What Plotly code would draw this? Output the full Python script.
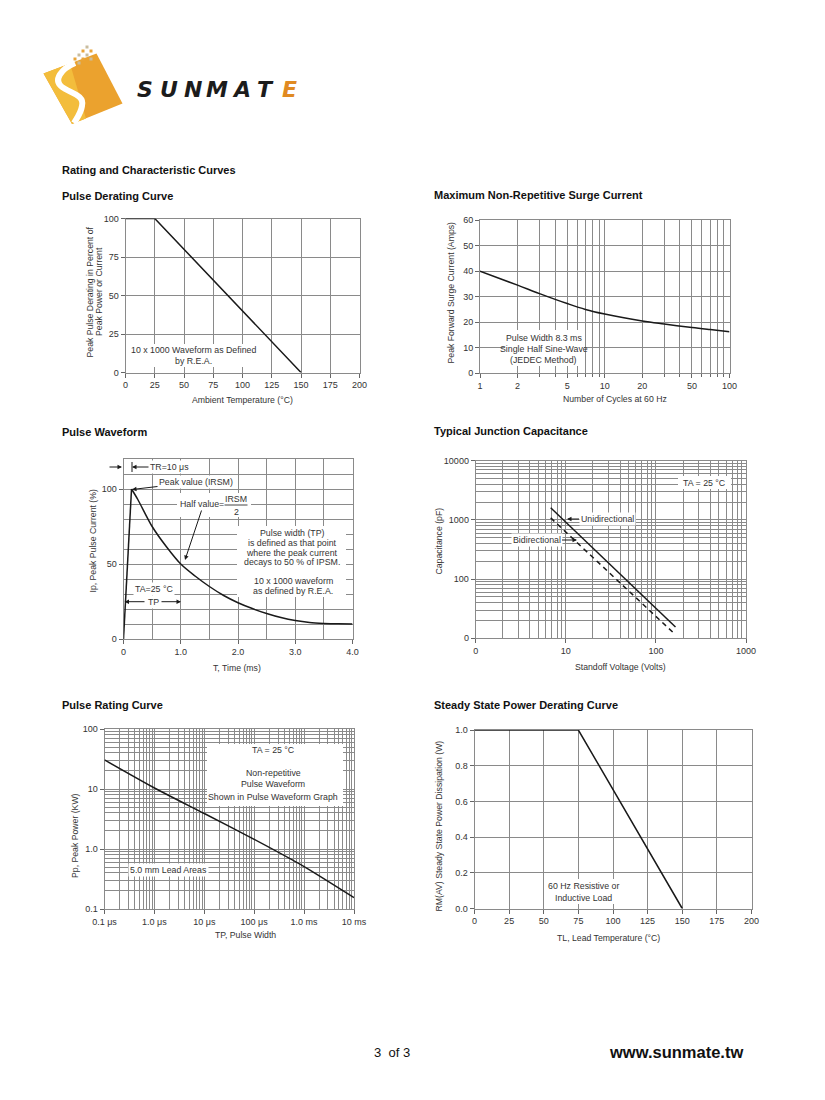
import plotly.graph_objects as go

W, H = 825, 1100
FONT = "Liberation Sans, Arial, Helvetica, sans-serif"
GRID = "#8a8a8a"
INK = "#1a1a1a"
TXT = "#333333"

# ---------------- data ----------------
derate_temp = [0, 25, 150]
derate_pct = [100, 100, 0]
derate_xticks = [0, 25, 50, 75, 100, 125, 150, 175, 200]
derate_yticks = [0, 25, 50, 75, 100]

surge_cycles = [1, 2, 3, 5, 7, 10, 20, 30, 50, 70, 100]
surge_amps = [40, 34.5, 31.2, 27.3, 25, 23.2, 20.5, 19.3, 17.9, 17.1, 16.3]
surge_xticks = [1, 2, 5, 10, 20, 50, 100]
surge_yticks = [0, 10, 20, 30, 40, 50, 60]

wave_t = [0, 0.14, 0.25, 0.5, 0.75, 1.0, 1.25, 1.5, 1.75, 2.0, 2.25, 2.5, 2.75, 3.0, 3.25, 3.5, 3.75, 4.0]
wave_pct = [0, 100, 93, 75, 61.5, 50, 42, 35, 29, 24.2, 20.3, 17, 14.3, 12.3, 11, 10.4, 10.1, 10]
wave_xticks = [0, 1, 2, 3, 4]
wave_xlabels = ["0", "1.0", "2.0", "3.0", "4.0"]
wave_yticks = [0, 50, 100]

cap_volts_uni = [6.8, 165]
cap_pf_uni = [1600, 15.5]
cap_volts_bi = [6.8, 160]
cap_pf_bi = [1080, 12]
cap_xticks = [1, 10, 100, 1000]
cap_xlabels = ["0", "10", "100", "1000"]
cap_yticks = [10, 100, 1000, 10000]
cap_ylabels = ["0", "100", "1000", "10000"]

rating_tp_us = [0.1, 1, 10, 100, 1000, 10000]
rating_kw = [30.5, 10.4, 3.9, 1.45, 0.51, 0.155]
rating_xticks = [0.1, 1, 10, 100, 1000, 10000]
rating_xlabels = ["0.1 μs", "1.0 μs", "10 μs", "100 μs", "1.0 ms", "10 ms"]
rating_yticks = [0.1, 1, 10, 100]
rating_ylabels = ["0.1", "1.0", "10", "100"]

steady_temp = [0, 75, 150]
steady_w = [1.0, 1.0, 0.0]
steady_xticks = [0, 25, 50, 75, 100, 125, 150, 175, 200]
steady_yticks = [0, 0.2, 0.4, 0.6, 0.8, 1.0]


def X(px):
    return px / W


def Y(py):
    return 1 - py / H


def log_minor(d0, d1):
    return [k * 10 ** d for d in range(d0, d1) for k in range(2, 10)]


def axis(xr, **kw):
    base = dict(domain=list(xr), showgrid=True, gridcolor=GRID, gridwidth=1,
                showline=True, linecolor=GRID, linewidth=1, mirror=True,
                ticks="outside", ticklen=4, tickcolor="#666", tickwidth=1,
                tickfont=dict(family=FONT, size=9, color=TXT), zeroline=False,
                fixedrange=True, automargin=False, layer="below traces")
    base.update(kw)
    return base


def minor(vals, ticks=""):
    return dict(tickmode="array", tickvals=vals, showgrid=True, gridcolor=GRID,
                gridwidth=1, ticks=ticks, ticklen=3, tickcolor="#666")


fig = go.Figure()
line = dict(color=INK, width=1.5)

fig.add_trace(go.Scatter(x=derate_temp, y=derate_pct, xaxis="x", yaxis="y", mode="lines", line=line))
fig.add_trace(go.Scatter(x=surge_cycles, y=surge_amps, xaxis="x2", yaxis="y2", mode="lines",
                         line=dict(color=INK, width=1.5, shape="spline", smoothing=1.0)))
fig.add_trace(go.Scatter(x=wave_t[:2], y=wave_pct[:2], xaxis="x3", yaxis="y3", mode="lines", line=line))
fig.add_trace(go.Scatter(x=wave_t[1:], y=wave_pct[1:], xaxis="x3", yaxis="y3", mode="lines",
                         line=dict(color=INK, width=1.5, shape="spline", smoothing=0.8)))
fig.add_trace(go.Scatter(x=cap_volts_uni, y=cap_pf_uni, xaxis="x4", yaxis="y4", mode="lines", line=line))
fig.add_trace(go.Scatter(x=cap_volts_bi, y=cap_pf_bi, xaxis="x4", yaxis="y4", mode="lines",
                         line=dict(color=INK, width=1.5, dash="5px,4px")))
fig.add_trace(go.Scatter(x=rating_tp_us, y=rating_kw, xaxis="x5", yaxis="y5", mode="lines",
                         line=dict(color=INK, width=1.5, shape="spline", smoothing=0.6)))
fig.add_trace(go.Scatter(x=steady_temp, y=steady_w, xaxis="x6", yaxis="y6", mode="lines", line=line))

lay = dict(width=W, height=H, autosize=False,
           margin=dict(l=0, r=0, t=0, b=0, pad=0, autoexpand=False),
           paper_bgcolor="white", plot_bgcolor="white", showlegend=False,
           font=dict(family=FONT, color=TXT), hovermode=False)

# panel 1
lay["xaxis"] = axis((X(125.5), X(359.5)), range=[0, 200], tickmode="array", tickvals=derate_xticks, anchor="y")
lay["yaxis"] = axis((Y(372.5), Y(218.5)), range=[0, 100], tickmode="array", tickvals=derate_yticks, anchor="x")
# panel 2
lay["xaxis2"] = axis((X(480), X(729.5)), type="log", range=[0, 2], tickmode="array",
                     tickvals=surge_xticks, ticktext=[str(v) for v in surge_xticks],
                     minor=minor(log_minor(0, 2), "outside"), anchor="y2")
lay["yaxis2"] = axis((Y(373.3), Y(220)), range=[0, 60], tickmode="array", tickvals=surge_yticks, anchor="x2")
# panel 3
lay["xaxis3"] = axis((X(123.5), X(352.5)), range=[0, 4], tickmode="array", tickvals=wave_xticks,
                     ticktext=wave_xlabels, minor=minor([0.5, 1.5, 2.5, 3.5]), anchor="y3")
lay["yaxis3"] = axis((Y(639), Y(459)), range=[0, 120], tickmode="array", tickvals=wave_yticks,
                     minor=minor([v for v in range(10, 121, 10) if v not in wave_yticks]), anchor="x3")
# panel 4
lay["xaxis4"] = axis((X(475.7), X(746)), type="log", range=[0, 3], tickmode="array", tickvals=cap_xticks,
                     ticktext=cap_xlabels, minor=minor(log_minor(0, 3)), anchor="y4")
lay["yaxis4"] = axis((Y(638.3), Y(460.7)), type="log", range=[1, 4], tickmode="array", tickvals=cap_yticks,
                     ticktext=cap_ylabels, minor=minor(log_minor(1, 4)), anchor="x4")
# panel 5
lay["xaxis5"] = axis((X(104.5), X(354)), type="log", range=[-1, 4], tickmode="array", tickvals=rating_xticks,
                     ticktext=rating_xlabels, minor=minor(log_minor(-1, 4)), anchor="y5")
lay["yaxis5"] = axis((Y(909), Y(729)), type="log", range=[-1, 2], tickmode="array", tickvals=rating_yticks,
                     ticktext=rating_ylabels, minor=minor(log_minor(-1, 2)), anchor="x5")
# panel 6
lay["xaxis6"] = axis((X(474.5), X(751.5)), range=[0, 200], tickmode="array", tickvals=steady_xticks, anchor="y6")
lay["yaxis6"] = axis((Y(908.5), Y(730)), range=[0, 1.0], tickmode="array", tickvals=steady_yticks,
                     tickformat=".1f", anchor="x6")

anns = []
shapes = []


def text(x, y, s, size=9, color=TXT, bg=None, xanchor="center", angle=0, family=FONT, **kw):
    a = dict(x=X(x), y=Y(y), xref="paper", yref="paper", text=s, showarrow=False,
             xanchor=xanchor, yanchor="middle", textangle=angle,
             font=dict(family=family, size=size, color=color))
    if bg:
        a.update(bgcolor=bg, borderpad=1)
    a.update(kw)
    anns.append(a)


def arrow(hx, hy, tx, ty, s="", bg=None, size=9):
    a = dict(x=X(hx), y=Y(hy), xref="paper", yref="paper", ax=tx - hx, ay=ty - hy,
             axref="pixel", ayref="pixel", text=s, showarrow=True, arrowhead=2,
             arrowsize=0.9, arrowwidth=1, arrowcolor=INK, standoff=0,
             font=dict(family=FONT, size=size, color=TXT))
    if bg:
        a.update(bgcolor=bg, borderpad=1)
    anns.append(a)


def box(x0, y0, x1, y1):
    shapes.append(dict(type="rect", xref="paper", yref="paper", x0=X(x0), x1=X(x1),
                       y0=Y(y1), y1=Y(y0), fillcolor="white", line=dict(width=0), layer="above"))


def seg(x0, y0, x1, y1, color=INK, width=1):
    shapes.append(dict(type="line", xref="paper", yref="paper", x0=X(x0), x1=X(x1),
                       y0=Y(y0), y1=Y(y1), line=dict(color=color, width=width), layer="above"))


def path(pts, fill=None, color=None, width=0, closed=True):
    d = "M " + " L ".join(f"{X(px):.5f},{Y(py):.5f}" for px, py in pts)
    if closed:
        d += " Z"
    shapes.append(dict(type="path", xref="paper", yref="paper", path=d,
                       fillcolor=fill if fill else "rgba(0,0,0,0)",
                       line=dict(color=color if color else "rgba(0,0,0,0)", width=width), layer="above"))


# ---------------- headings ----------------
TB = "#111111"
text(60, 170, "<b>Rating and Characteristic Curves</b>", size=11, color=TB, xanchor="left")
text(60, 196, "<b>Pulse Derating Curve</b>", size=11, color=TB, xanchor="left")
text(432, 195, "<b>Maximum Non-Repetitive Surge Current</b>", size=11, color=TB, xanchor="left")
text(60, 432, "<b>Pulse Waveform</b>", size=11, color=TB, xanchor="left")
text(432, 431, "<b>Typical Junction Capacitance</b>", size=11, color=TB, xanchor="left")
text(60, 705, "<b>Pulse Rating Curve</b>", size=11, color=TB, xanchor="left")
text(432, 705, "<b>Steady State Power Derating Curve</b>", size=11, color=TB, xanchor="left")

# ---------------- axis titles ----------------
text(242.5, 400.5, "Ambient Temperature (°C)", size=8.7)
text(89.5, 292, "Peak Pulse Derating in Percent of", size=8.7, angle=-90)
text(99, 292, "Peak Power or Current", size=8.7, angle=-90)
text(614.5, 398.5, "Number of Cycles at 60 Hz", size=8.7)
text(451, 292.5, "Peak Forward Surge Current (Amps)", size=8.7, angle=-90)
text(237, 668, "T, Time (ms)", size=8.7)
text(92.5, 541, "Ip, Peak Pulse Current (%)", size=8.7, angle=-90)
text(620, 667, "Standoff Voltage (Volts)", size=8.7)
text(438.5, 541, "Capacitance (pF)", size=8.7, angle=-90)
text(246, 935, "TP, Pulse Width", size=8.7)
text(75, 836, "Pp, Peak Power (KW)", size=8.7, angle=-90)
text(608, 937.5, "TL, Lead Temperature (°C)", size=8.7)
text(438.5, 826, "RM(AV) Steady State Power Dissipation (W)", size=8.7, angle=-90)

# ---------------- panel notes ----------------
# panel 1
box(130, 344, 257, 367)
text(193.3, 350.5, "10 x 1000 Waveform as Defined", size=8.8)
text(193.3, 361, "by R.E.A.", size=8.8)
# panel 2
box(505, 330, 584, 366)
text(543.5, 337.5, "Pulse Width 8.3 ms", size=8.8)
text(543.5, 348.5, "Single Half Sine-Wave", size=8.8)
text(543.5, 360, "(JEDEC Method)", size=8.8)
# panel 3
seg(132, 462, 132, 472)
arrow(132, 467, 169.5, 467, "TR=10 μs", bg="white", size=8.8)
arrow(122, 467, 108, 467)
arrow(132, 489.5, 196, 482, "Peak value (IRSM)", bg="white", size=8.8)
box(177, 493, 251, 517)
text(201.5, 504, "Half value=", size=8.8)
text(236, 499, "IRSM", size=8.8)
text(236, 511.5, "2", size=8.8)
seg(224.5, 505, 247.5, 505, color="#444")
arrow(185, 560, 202, 509)
box(237, 526, 346, 597)
text(292, 533, "Pulse width (TP)", size=8.8)
text(292, 543, "is defined as that point", size=8.8)
text(292, 552.5, "where the peak current", size=8.8)
text(292, 562, "decays to 50 % of IPSM.", size=8.8)
text(293, 580.5, "10 x 1000 waveform", size=8.8)
text(293, 590.5, "as defined by R.E.A.", size=8.8)
text(153.5, 589, "TA=25 °C", size=8.8, bg="white")
arrow(124.5, 601.7, 146, 601.7)
arrow(181, 601.7, 160, 601.7)
text(153, 601.7, "TP", size=8.8, bg="white")
# panel 4
box(678, 476, 731, 489)
text(704, 482.5, "TA = 25 °C", size=8.8)
arrow(567, 519, 607, 519, "Unidirectional", bg="white", size=8.8)
arrow(577, 540, 536.5, 540, "Bidirectional", bg="white", size=8.8)
# panel 5
box(207, 744, 343, 806)
text(273, 750, "TA = 25 °C", size=8.8)
text(273, 772.7, "Non-repetitive", size=8.8)
text(273, 784.3, "Pulse Waveform", size=8.8)
text(273, 796.7, "Shown in Pulse Waveform Graph", size=8.8)
text(168.5, 870, "5.0 mm Lead Areas", size=8.8, bg="white")
# panel 6
box(545, 879, 621, 904)
text(583, 886, "60 Hz Resistive or", size=8.8)
text(583, 897.5, "Inductive Load", size=8.8)

# ---------------- footer ----------------
text(372, 1052, "3\u00a0 of 3", size=13, color="#111", xanchor="left")
text(745, 1052, "<b>www.sunmate.tw</b>", size=16.5, color="#111", xanchor="right")

# ---------------- logo ----------------
path([(43.5, 73.5), (96.5, 53.5), (122.5, 103.5), (72, 124)], fill="#EBA22E")
path([(43.5, 73.5), (70, 63.5), (86, 118.5), (72, 124)], fill="#F3BD3C")
shapes.append(dict(type="path", xref="paper", yref="paper",
                   path=(f"M {X(75):.5f},{Y(63):.5f} C {X(61):.5f},{Y(69):.5f} {X(53):.5f},{Y(80):.5f} {X(62):.5f},{Y(87):.5f} "
                         f"C {X(70):.5f},{Y(93):.5f} {X(85):.5f},{Y(95):.5f} {X(82):.5f},{Y(106):.5f} "
                         f"C {X(81):.5f},{Y(113):.5f} {X(77):.5f},{Y(118):.5f} {X(74):.5f},{Y(123):.5f}"),
                   line=dict(color="white", width=6), fillcolor="rgba(0,0,0,0)", layer="above"))
dots = [(87, 47, "#C9BC9E"), (91, 51, "#E9A53A"), (83, 51, "#E9A53A"), (87, 55, "#C9BC9E"),
        (79, 55, "#C9BC9E"), (83, 59, "#E9A53A"), (75, 59, "#E9A53A"), (79, 63, "#C9BC9E"), (91, 59, "#C9BC9E")]
for dx, dy, c in dots:
    shapes.append(dict(type="rect", xref="paper", yref="paper", x0=X(dx - 1.5), x1=X(dx + 1.5),
                       y0=Y(dy + 1.5), y1=Y(dy - 1.5), fillcolor=c, line=dict(width=0), layer="above"))
for i, ch in enumerate("SUNMATE"):
    anns.append(dict(x=X(145 + 24 * i), y=Y(89.5), xref="paper", yref="paper", text=ch, showarrow=False,
                     xanchor="center", yanchor="middle",
                     font=dict(family="DejaVu Sans", size=22, color="#E08A22" if ch == "E" and i == 6 else "#1c1c1c",
                               weight="bold", style="italic")))

lay["annotations"] = anns
lay["shapes"] = shapes
fig.update_layout(**lay)
fig.update_traces(showlegend=False, hoverinfo="skip")

fig.write_html("out.html", config={"displayModeBar": False},
               post_script="document.body.style.margin='0';document.body.style.padding='0';")
